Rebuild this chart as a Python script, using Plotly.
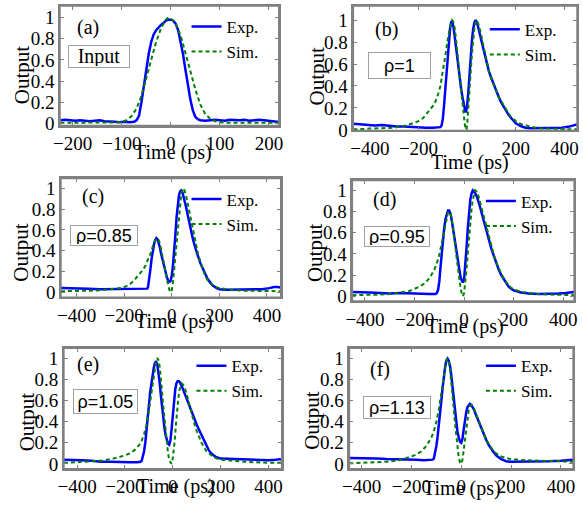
import plotly.graph_objects as go

# ---------------- data ----------------
time_a_exp = [-225,-215,-205,-195,-185,-175,-165,-155,-145,-135,
              -125,-115,-105,-95,-85,-75,-70,-65,-60,-55,
              -50,-45,-40,-35,-30,-25,-20,-15,-10,-5,
              0,5,10,15,20,25,30,35,40,45,
              50,55,60,70,80,90,100,110,120,130,
              140,150,160,170,180,190,200,210,220,225]
out_a_exp = [0.03,0.035,0.03,0.025,0.03,0.025,0.02,0.025,0.03,0.02,
             0.02,0.015,0.01,0.015,0.01,0.015,0.03,0.07,0.2,0.36,
             0.52,0.66,0.77,0.84,0.88,0.91,0.93,0.95,0.97,0.98,
             0.98,0.97,0.94,0.88,0.78,0.65,0.5,0.34,0.22,0.12,
             0.06,0.04,0.03,0.025,0.03,0.035,0.03,0.025,0.035,0.03,
             0.03,0.035,0.025,0.03,0.035,0.03,0.025,0.02,0.015,0.01]
time_a_sim = [-225,-180,-140,-120,-110,-100,-90,-80,-70,-60,
              -50,-40,-30,-20,-10,-5,0,10,20,30,
              40,50,60,70,80,90,100,120,160,225]
out_a_sim = [0.005,0.005,0.005,0.007,0.01,0.015,0.03,0.07,0.14,0.26,
             0.42,0.6,0.77,0.9,0.98,1.0,0.99,0.94,0.83,0.67,
             0.49,0.32,0.18,0.09,0.045,0.02,0.01,0.006,0.005,0.005]

time_b_exp = [-468,-440,-410,-380,-350,-320,-290,-260,-230,-200,
              -170,-140,-120,-110,-105,-100,-95,-90,-85,-80,
              -75,-70,-65,-60,-55,-50,-45,-40,-35,-30,
              -25,-20,-15,-10,-7,-4,0,5,10,15,
              20,25,30,35,40,45,50,60,70,80,
              90,100,110,120,130,140,150,160,170,180,
              190,200,220,240,260,280,300,330,360,390,
              420,440,452]
out_b_exp = [0.055,0.05,0.045,0.04,0.045,0.035,0.03,0.03,0.025,0.025,
             0.02,0.02,0.02,0.025,0.04,0.1,0.22,0.38,0.55,0.7,
             0.83,0.93,0.99,0.98,0.92,0.82,0.72,0.62,0.53,0.45,
             0.38,0.31,0.25,0.19,0.16,0.17,0.22,0.35,0.52,0.68,
             0.82,0.92,0.98,1.0,0.98,0.94,0.89,0.8,0.71,0.62,
             0.53,0.47,0.41,0.35,0.3,0.25,0.21,0.17,0.14,0.11,
             0.08,0.06,0.035,0.02,0.015,0.015,0.015,0.015,0.02,0.02,
             0.03,0.045,0.05]
time_b_sim = [-468,-400,-350,-300,-250,-220,-200,-180,-160,-140,
              -130,-120,-110,-100,-90,-80,-75,-70,-65,-62,
              -58,-55,-50,-45,-40,-35,-30,-25,-20,-15,
              -10,-7,-4,0,5,10,15,20,25,30,
              35,38,42,46,50,60,70,80,90,100,
              110,120,130,140,150,160,170,180,190,200,
              220,240,260,280,300,350,400,452]
out_b_sim = [0.005,0.01,0.015,0.02,0.04,0.06,0.08,0.11,0.16,0.22,
             0.26,0.32,0.4,0.52,0.67,0.82,0.89,0.94,0.98,1.0,
             0.99,0.97,0.91,0.82,0.71,0.59,0.47,0.35,0.24,0.14,
             0.06,0.02,0.0,0.04,0.18,0.36,0.54,0.7,0.83,0.93,
             0.98,1.0,0.99,0.97,0.94,0.84,0.73,0.62,0.53,0.46,
             0.4,0.35,0.3,0.26,0.22,0.18,0.15,0.12,0.1,0.08,
             0.055,0.04,0.03,0.02,0.015,0.01,0.005,0.005]

time_c_exp = [-466,-430,-390,-350,-300,-250,-200,-150,-120,-108,
              -103,-100,-95,-90,-85,-80,-75,-70,-65,-60,
              -55,-50,-45,-40,-35,-30,-25,-20,-15,-10,
              -5,0,5,10,15,20,25,30,35,40,
              45,50,60,70,80,90,100,110,120,130,
              140,150,160,170,185,200,230,260,300,340,
              380,410,430,445,458]
out_c_exp = [0.04,0.04,0.035,0.035,0.03,0.03,0.03,0.03,0.03,0.03,
             0.035,0.05,0.12,0.22,0.32,0.4,0.46,0.5,0.52,0.51,
             0.48,0.43,0.37,0.32,0.27,0.22,0.18,0.14,0.11,0.1,
             0.11,0.16,0.26,0.38,0.55,0.72,0.85,0.93,0.97,0.98,
             0.96,0.92,0.82,0.71,0.6,0.5,0.42,0.34,0.28,0.23,
             0.17,0.13,0.1,0.07,0.045,0.03,0.025,0.025,0.025,0.03,
             0.03,0.04,0.05,0.05,0.045]
time_c_sim = [-466,-400,-350,-300,-250,-220,-200,-180,-160,-140,
              -120,-110,-100,-90,-80,-70,-62,-55,-50,-45,
              -40,-35,-30,-25,-20,-15,-10,-5,0,5,
              10,15,20,25,30,35,40,45,48,52,
              60,70,80,90,100,110,120,130,140,150,
              160,170,180,200,230,260,300,400,458]
out_c_sim = [0.01,0.01,0.015,0.02,0.03,0.04,0.05,0.07,0.11,0.16,
             0.22,0.26,0.31,0.37,0.44,0.5,0.52,0.5,0.47,0.42,
             0.36,0.3,0.24,0.17,0.11,0.06,0.02,0.0,0.02,0.1,
             0.22,0.36,0.5,0.64,0.77,0.87,0.95,0.99,1.0,0.99,
             0.93,0.82,0.7,0.58,0.47,0.37,0.29,0.22,0.16,0.12,
             0.09,0.07,0.055,0.04,0.03,0.02,0.015,0.01,0.01]

time_d_exp = [-451,-420,-380,-340,-300,-260,-220,-180,-140,-115,
              -110,-105,-100,-95,-90,-85,-80,-75,-70,-65,
              -60,-55,-50,-45,-40,-35,-30,-25,-20,-15,
              -10,-5,0,5,10,15,20,25,30,35,
              40,45,50,60,70,80,90,100,110,120,
              130,140,150,160,170,180,190,200,230,260,
              300,340,380,410,430,444]
out_d_exp = [0.04,0.04,0.035,0.03,0.025,0.03,0.025,0.02,0.02,0.02,
             0.03,0.06,0.14,0.28,0.42,0.55,0.65,0.73,0.78,0.81,
             0.81,0.78,0.72,0.64,0.56,0.48,0.4,0.32,0.25,0.19,
             0.15,0.13,0.16,0.28,0.46,0.64,0.8,0.91,0.97,1.0,
             0.99,0.97,0.95,0.88,0.79,0.7,0.61,0.53,0.45,0.38,
             0.31,0.25,0.2,0.16,0.12,0.09,0.07,0.055,0.035,0.025,
             0.02,0.02,0.025,0.03,0.04,0.04]
time_d_sim = [-451,-400,-350,-300,-250,-220,-200,-180,-160,-140,
              -120,-110,-100,-90,-80,-75,-70,-65,-60,-55,
              -50,-45,-40,-35,-30,-25,-20,-15,-10,-5,
              0,5,10,15,20,25,30,35,40,45,
              50,55,60,70,80,90,100,110,120,130,
              140,150,160,170,180,190,200,230,260,300,
              350,400,444]
out_d_sim = [0.01,0.01,0.015,0.02,0.035,0.05,0.07,0.09,0.12,0.17,
             0.25,0.31,0.39,0.5,0.62,0.69,0.75,0.79,0.8,0.78,
             0.73,0.65,0.56,0.46,0.36,0.26,0.17,0.09,0.03,0.0,
             0.03,0.12,0.26,0.41,0.56,0.7,0.82,0.91,0.97,1.0,
             0.99,0.97,0.93,0.84,0.74,0.64,0.55,0.46,0.39,0.32,
             0.26,0.21,0.17,0.13,0.1,0.08,0.065,0.04,0.03,0.02,
             0.015,0.01,0.01]

time_e_exp = [-455,-420,-380,-340,-300,-260,-220,-180,-150,-135,
              -130,-125,-120,-115,-110,-105,-100,-95,-90,-85,
              -80,-75,-70,-65,-60,-55,-50,-45,-40,-35,
              -30,-25,-20,-15,-10,-5,0,5,10,15,
              20,25,30,40,50,60,70,80,90,100,
              110,120,130,140,150,160,170,180,200,250,
              300,350,400,430,445,455]
out_e_exp = [0.04,0.04,0.035,0.03,0.02,0.02,0.015,0.015,0.015,0.02,
             0.03,0.07,0.12,0.2,0.3,0.42,0.55,0.67,0.76,0.84,
             0.9,0.95,0.97,0.94,0.87,0.77,0.65,0.53,0.43,0.34,
             0.27,0.22,0.19,0.18,0.22,0.33,0.47,0.6,0.7,0.76,
             0.78,0.78,0.77,0.72,0.66,0.6,0.54,0.48,0.42,0.37,
             0.32,0.27,0.22,0.17,0.13,0.1,0.08,0.065,0.05,0.045,
             0.04,0.035,0.035,0.04,0.045,0.04]
time_e_sim = [-455,-400,-350,-300,-250,-220,-200,-180,-160,-140,
              -130,-120,-110,-100,-90,-80,-75,-70,-65,-60,
              -55,-50,-45,-40,-35,-30,-25,-20,-15,-10,
              -6,-2,3,8,13,18,23,28,33,37,
              42,50,60,70,80,90,100,110,120,130,
              140,150,160,170,180,200,250,300,400,455]
out_e_sim = [0.01,0.015,0.02,0.03,0.05,0.065,0.08,0.1,0.13,0.18,
             0.22,0.28,0.37,0.5,0.66,0.83,0.91,0.97,1.0,0.98,
             0.92,0.82,0.69,0.55,0.42,0.3,0.19,0.1,0.04,0.01,
             0.0,0.02,0.1,0.22,0.37,0.51,0.62,0.7,0.75,0.76,
             0.75,0.72,0.64,0.55,0.46,0.38,0.31,0.25,0.2,0.16,
             0.12,0.1,0.08,0.065,0.055,0.04,0.03,0.02,0.01,0.01]

time_f_exp = [-449,-420,-380,-340,-300,-260,-220,-180,-150,-130,
              -115,-110,-105,-100,-95,-90,-85,-80,-75,-70,
              -65,-60,-55,-50,-45,-40,-35,-30,-25,-20,
              -15,-10,-5,0,5,10,15,20,25,30,
              35,40,50,60,70,80,90,100,110,120,
              130,140,150,160,170,180,200,250,300,350,
              400,430,449]
out_f_exp = [0.055,0.055,0.05,0.05,0.045,0.045,0.04,0.04,0.035,0.035,
             0.04,0.05,0.1,0.17,0.26,0.36,0.47,0.6,0.72,0.83,
             0.92,0.98,1.0,0.98,0.93,0.84,0.73,0.6,0.48,0.38,
             0.3,0.25,0.21,0.2,0.24,0.33,0.42,0.49,0.54,0.56,
             0.57,0.56,0.52,0.46,0.4,0.34,0.28,0.23,0.18,0.14,
             0.11,0.08,0.06,0.045,0.035,0.025,0.02,0.02,0.02,0.025,
             0.03,0.035,0.04]
time_f_sim = [-449,-400,-350,-300,-250,-220,-200,-180,-160,-140,
              -120,-110,-100,-90,-80,-75,-70,-65,-60,-55,
              -50,-45,-40,-35,-30,-25,-20,-15,-10,-5,
              0,5,10,15,20,25,30,35,42,50,
              60,70,80,90,100,110,120,130,140,150,
              160,180,200,250,300,350,400,449]
out_f_sim = [0.005,0.008,0.012,0.02,0.035,0.055,0.07,0.09,0.12,0.17,
             0.25,0.31,0.4,0.52,0.67,0.76,0.85,0.93,0.98,1.0,
             0.97,0.9,0.79,0.66,0.52,0.38,0.25,0.14,0.06,0.015,
             0.0,0.04,0.13,0.25,0.36,0.45,0.51,0.55,0.56,0.53,
             0.47,0.4,0.34,0.28,0.23,0.19,0.15,0.12,0.1,0.085,
             0.07,0.055,0.045,0.035,0.03,0.025,0.02,0.02]

panel_letters = ["(a)", "(b)", "(c)", "(d)", "(e)", "(f)"]
panel_boxes = ["Input", "ρ=1", "ρ=0.85", "ρ=0.95", "ρ=1.05", "ρ=1.13"]
y_tick_vals = [0, 0.2, 0.4, 0.6, 0.8, 1]
y_tick_text = ["0", "0.2", "0.4", "0.6", "0.8", "1"]
x_title = "Time (ps)"
y_title = "Output"

series = [
    (time_a_exp, out_a_exp, time_a_sim, out_a_sim),
    (time_b_exp, out_b_exp, time_b_sim, out_b_sim),
    (time_c_exp, out_c_exp, time_c_sim, out_c_sim),
    (time_d_exp, out_d_exp, time_d_sim, out_d_sim),
    (time_e_exp, out_e_exp, time_e_sim, out_e_sim),
    (time_f_exp, out_f_exp, time_f_sim, out_f_sim),
]
for s in series:
    assert len(s[0]) == len(s[1]), (len(s[0]), len(s[1]))
    assert len(s[2]) == len(s[3]), (len(s[2]), len(s[3]))

# ---------------- layout geometry (pixels) ----------------
W, H = 583, 519
def px_x(v):
    return v / W
def px_y(v):
    return 1 - v / H

geo = [
    dict(x=(54, 277), y=(6, 128), xr=(-226, 220), yr=(-0.02, 1.11), dt=100,
         letter=(83, 28), box=(94, 58, 58, 19), boxsize=20,
         leg=(183, 9), ytitle=(15, 76), xtitle=(169, 156)),
    dict(x=(353, 581), y=(6, 133), xr=(-468, 452), yr=(-0.005, 1.13), dt=200,
         letter=(387, 30), box=(400, 67, 59, 23), boxsize=18,
         leg=(487, 12), ytitle=(316, 78), xtitle=(472, 166)),
    dict(x=(55, 279), y=(182, 303), xr=(-466, 458), yr=(-0.047, 1.094), dt=200,
         letter=(88, 200), box=(99, 240, 64, 17), boxsize=18,
         leg=(183, 185), ytitle=(14, 257), xtitle=(170, 328)),
    dict(x=(352, 578), y=(184, 307), xr=(-451, 444), yr=(-0.046, 1.093), dt=200,
         letter=(385, 203), box=(397, 241, 62, 17), boxsize=18,
         leg=(483, 187), ytitle=(314, 258), xtitle=(467, 333)),
    dict(x=(58, 280), y=(355, 478), xr=(-455, 455), yr=(-0.046, 1.093), dt=200,
         letter=(83, 372), box=(100, 409, 61, 21), boxsize=18,
         leg=(188, 355), ytitle=(20, 430), xtitle=(172, 496)),
    dict(x=(349, 577), y=(355, 478), xr=(-449, 449), yr=(-0.047, 1.10), dt=200,
         letter=(380, 377), box=(398, 416, 64, 19), boxsize=18,
         leg=(483, 355), ytitle=(311, 429), xtitle=(464, 498)),
]

BLUE = "#0000ff"
GREEN = "#008000"
FRAME = "#808080"
SERIF = "Liberation Serif"
SANS = "Liberation Sans"

fig = go.Figure()
annotations = []
shapes = []
layout = {}

def ann(text, x, y, **kw):
    d = dict(text=text, x=px_x(x), y=px_y(y), xref="paper", yref="paper",
             xanchor="center", yanchor="middle", showarrow=False)
    d.update(kw)
    return d

for i, (g, (te, ye, ts, ys)) in enumerate(zip(geo, series)):
    n = "" if i == 0 else str(i + 1)
    leg = "legend" if i == 0 else f"legend{i + 1}"
    fig.add_trace(go.Scatter(x=te, y=ye, mode="lines", name="Exp.",
                             line=dict(color=BLUE, width=2.5),
                             xaxis="x" + n, yaxis="y" + n, legend=leg))
    fig.add_trace(go.Scatter(x=ts, y=ys, mode="lines", name="Sim.",
                             line=dict(color=GREEN, width=2, dash="4px,3px"),
                             xaxis="x" + n, yaxis="y" + n, legend=leg))

    layout["xaxis" + n] = dict(
        domain=[px_x(g["x"][0]), px_x(g["x"][1])], anchor="y" + n,
        range=list(g["xr"]), tickmode="linear", tick0=0, dtick=g["dt"],
        ticks="inside", ticklen=4, tickcolor=FRAME, tickwidth=1,
        showline=True, linecolor=FRAME, linewidth=1.5, mirror="ticks",
        showgrid=False, zeroline=False,
        tickfont=dict(family=SERIF, size=19, color="black"),
    )
    layout["yaxis" + n] = dict(
        domain=[px_y(g["y"][1]), px_y(g["y"][0])], anchor="x" + n,
        range=list(g["yr"]), tickmode="array", tickvals=y_tick_vals, ticktext=y_tick_text,
        ticks="inside", ticklen=4, tickcolor=FRAME, tickwidth=1,
        showline=True, linecolor=FRAME, linewidth=1.5, mirror="ticks",
        showgrid=False, zeroline=False,
        tickfont=dict(family=SERIF, size=19, color="black"),
    )
    layout[leg] = dict(
        x=px_x(g["leg"][0]), y=px_y(g["leg"][1]), xanchor="left", yanchor="top",
        bgcolor="rgba(0,0,0,0)", itemwidth=30,
        font=dict(family=SERIF, size=17, color="black"),
    )
    # frame around each panel (paper-referenced rectangle on top of everything)
    fx0, fx1 = g["x"]
    fy0, fy1 = g["y"]
    shapes.append(dict(type="rect", xref="paper", yref="paper",
                       x0=px_x(fx0), x1=px_x(fx1), y0=px_y(fy1), y1=px_y(fy0),
                       layer="above", line=dict(color=FRAME, width=1.5)))
    annotations.append(ann(panel_letters[i], *g["letter"],
                           font=dict(family=SERIF, size=20, color="black")))
    bx, by, bw, bh = g["box"]
    annotations.append(ann(panel_boxes[i], bx, by,
                           width=bw, height=bh, borderpad=1, align="center", valign="middle",
                           bordercolor="#a0a0a0", borderwidth=1, bgcolor="white",
                           font=dict(family=SERIF if i == 0 else SANS, size=g["boxsize"], color="black")))
    annotations.append(ann(y_title, *g["ytitle"], textangle=-90,
                           font=dict(family=SERIF, size=21, color="black")))
    annotations.append(ann(x_title, *g["xtitle"],
                           font=dict(family=SERIF, size=20, color="black")))

fig.update_layout(
    width=W, height=H, margin=dict(l=0, r=0, t=0, b=0),
    plot_bgcolor="white",
    annotations=annotations, shapes=shapes, **layout,
)

fig.write_html("out.html", config={"displayModeBar": False},
               post_script="document.body.style.margin='0';")
